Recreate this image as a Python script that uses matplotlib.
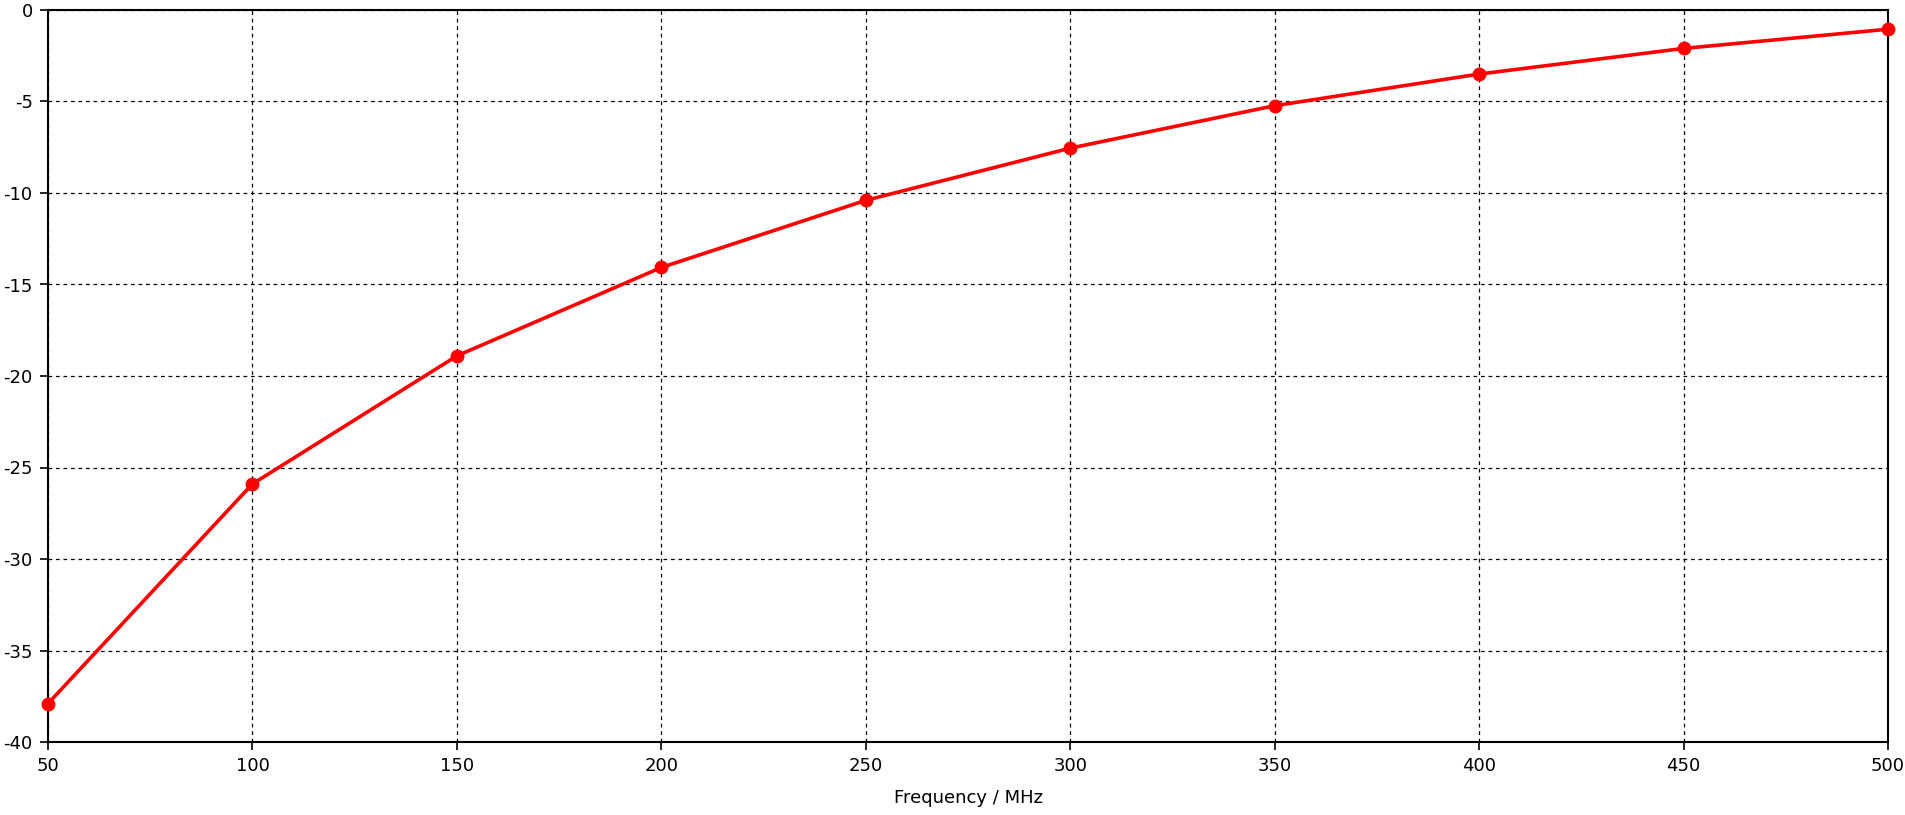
import numpy as np
import matplotlib.pyplot as plt

freq = [50, 100, 150, 200, 250, 300, 350, 400, 450, 500]
gain = [-37.9, -25.9, -18.9, -14.07, -10.4, -7.55, -5.23, -3.5, -2.1, -1.05]

x_ticks = np.arange(50, 501, 50)
y_ticks = np.arange(-40, 1, 5)

plt.rcParams['font.family'] = ['DejaVu Sans']
plt.rcParams['axes.unicode_minus'] = False

fig = plt.figure(figsize=(19.05, 8.15), dpi=100)
ax = fig.add_axes([48 / 1905, 1 - 742 / 815, (1888 - 48) / 1905, (742 - 10) / 815])

ax.plot(freq, gain, color='#ff0000', linewidth=2.6, marker='o', markersize=9,
        clip_on=False, zorder=5)

ax.set_xlim(50, 500)
ax.set_ylim(-40, 0)
ax.set_xticks(x_ticks)
ax.set_yticks(y_ticks)
ax.grid(True, color='black', linestyle=(0, (3, 3)), linewidth=0.9)
ax.tick_params(direction='out', length=6, width=1.2, labelsize=13, pad=5)
for s in ax.spines.values():
    s.set_linewidth(1.5)

ax.set_xlabel('Frequency / MHz', fontsize=13, labelpad=10)

fig.savefig('out.png', dpi=100)
